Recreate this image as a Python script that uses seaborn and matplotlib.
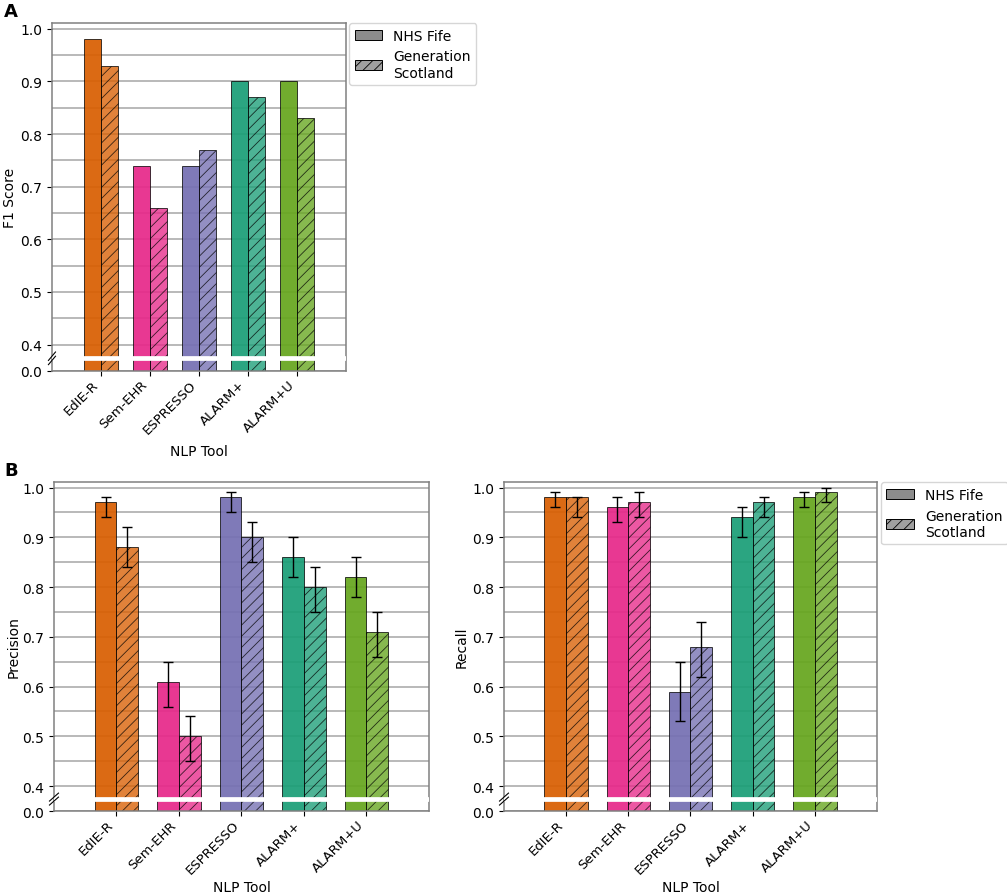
"""
Recreate the NLP tool comparison figure:
A - F1 score per tool, B - precision and recall with confidence intervals.
Broken y axis (0.0 at the bottom, then 0.4 - 1.0).
"""

import numpy as np
import pandas as pd
import matplotlib
matplotlib.use("Agg")
import matplotlib.pyplot as plt
import matplotlib.transforms as mtransforms
from matplotlib.patches import Patch
import seaborn as sns


# ----------------------------------------------------
# Data
# ----------------------------------------------------
tools = ["EdIE-R", "Sem-EHR", "ESPRESSO", "ALARM+", "ALARM+U"]
datasets = ["NHS Fife", "Generation Scotland"]
tool_colors = ["#d95f02", "#e7298a", "#7570b3", "#1b9e77", "#66a61e"]

f1_nhs = [0.98, 0.74, 0.74, 0.90, 0.90]
f1_gs = [0.93, 0.66, 0.77, 0.87, 0.83]

prec_nhs = [0.97, 0.61, 0.98, 0.86, 0.82]
prec_nhs_lo = [0.94, 0.56, 0.95, 0.82, 0.78]
prec_nhs_hi = [0.98, 0.65, 0.99, 0.90, 0.86]
prec_gs = [0.88, 0.50, 0.90, 0.80, 0.71]
prec_gs_lo = [0.84, 0.45, 0.85, 0.75, 0.66]
prec_gs_hi = [0.92, 0.54, 0.93, 0.84, 0.75]

rec_nhs = [0.98, 0.96, 0.59, 0.94, 0.98]
rec_nhs_lo = [0.96, 0.93, 0.53, 0.90, 0.96]
rec_nhs_hi = [0.99, 0.98, 0.65, 0.96, 0.99]
rec_gs = [0.98, 0.97, 0.68, 0.97, 0.99]
rec_gs_lo = [0.94, 0.94, 0.62, 0.94, 0.97]
rec_gs_hi = [0.98, 0.99, 0.73, 0.98, 1.00]

Y_BOTTOM = 0.35
Y_TOP = 1.011
BREAK_Y = 0.374

plt.rcParams["font.family"] = ["DejaVu Sans"]
plt.rcParams["font.size"] = 10
plt.rcParams["hatch.linewidth"] = 0.6


# ----------------------------------------------------
# One bar panel with a broken y axis
# ----------------------------------------------------
def draw_panel(ax, nhs, gs, ylabel, ylabel_x, nhs_ci=None, gs_ci=None):
    df = pd.DataFrame({
        "tool": tools * 2,
        "dataset": [datasets[0]] * len(tools) + [datasets[1]] * len(tools),
        "value": list(nhs) + list(gs),
    })
    sns.barplot(data=df, x="tool", y="value", hue="dataset",
                order=tools, hue_order=datasets, width=0.7,
                edgecolor="black", linewidth=0.7, legend=False, ax=ax)

    for i, container in enumerate(ax.containers):
        for j, bar in enumerate(container):
            bar.set_alpha(None)
            bar.set_edgecolor((0, 0, 0, 0.75))
            if i == 0:
                bar.set_facecolor(matplotlib.colors.to_rgba(tool_colors[j], 0.93))
            else:
                bar.set_facecolor(matplotlib.colors.to_rgba(tool_colors[j], 0.78))
                bar.set_hatch("///")
            bar.set_zorder(2)

    # error bars
    for container, vals, ci in zip(ax.containers, [nhs, gs], [nhs_ci, gs_ci]):
        if ci is None:
            continue
        xs = [b.get_x() + b.get_width() / 2 for b in container]
        vals = np.array(vals)
        lo, hi = np.array(ci[0]), np.array(ci[1])
        ax.errorbar(xs, vals, yerr=[vals - lo, hi - vals], fmt="none",
                    ecolor="black", elinewidth=1.0, capsize=3.5,
                    capthick=1.0, zorder=4)

    ax.set_xlim(-1, 5)
    ax.set_ylim(Y_BOTTOM, Y_TOP)
    major = [Y_BOTTOM, 0.4, 0.5, 0.6, 0.7, 0.8, 0.9, 1.0]
    ax.set_yticks(major)
    ax.set_yticklabels(["0.0", "0.4", "0.5", "0.6", "0.7", "0.8", "0.9", "1.0"])
    ax.set_yticks([0.45, 0.55, 0.65, 0.75, 0.85, 0.95], minor=True)
    ax.tick_params(axis="y", which="minor", length=0)
    ax.grid(True, axis="y", which="both", color="#a6a6a6", linewidth=1.1)
    ax.set_axisbelow(True)

    ax.set_xticks(range(len(tools)))
    ax.set_xticklabels(tools, rotation=45, ha="right")
    ax.tick_params(axis="x", labelsize=9.5, pad=1.5)
    ax.set_xlabel("NLP Tool", fontsize=10)
    ax.set_ylabel(ylabel, fontsize=10)
    ax.xaxis.set_label_coords(0.5, -0.21)
    ax.yaxis.set_label_coords(ylabel_x, 0.5)

    for s in ax.spines.values():
        s.set_color("#808080")
        s.set_linewidth(1.1)

    # white band to show the break across the bars
    ax.axhline(BREAK_Y, color="white", linewidth=3.4, zorder=3)

    # break mark on the left spine
    trans = mtransforms.blended_transform_factory(ax.transAxes, ax.transData)
    for off in (-0.004, 0.004):
        ax.plot([-0.012, 0.012], [BREAK_Y - 0.008 + off, BREAK_Y + 0.008 + off],
                transform=trans, color="black", linewidth=0.8,
                clip_on=False, zorder=5)


def add_legend(ax):
    handles = [
        Patch(facecolor=(0.5, 0.5, 0.5, 0.9), edgecolor="black", linewidth=0.7,
              label="NHS Fife"),
        Patch(facecolor=(0.5, 0.5, 0.5, 0.75), edgecolor="black", linewidth=0.7,
              hatch="///", label="Generation\nScotland"),
    ]
    ax.legend(handles=handles, loc="upper left", bbox_to_anchor=(1.01, 1.0),
              borderaxespad=0.0, fontsize=10, frameon=True)


# ----------------------------------------------------
# Figure
# ----------------------------------------------------
def main():
    fig = plt.figure(figsize=(10.07, 8.95), dpi=100)

    ax_a = fig.add_axes([0.0516, 0.5844, 0.292, 0.3888])
    ax_p = fig.add_axes([0.0536, 0.0927, 0.3724, 0.3676])
    ax_r = fig.add_axes([0.5005, 0.0927, 0.3704, 0.3676])

    draw_panel(ax_a, f1_nhs, f1_gs, "F1 Score", -0.12)
    add_legend(ax_a)

    draw_panel(ax_p, prec_nhs, prec_gs, "Precision", -0.088,
               nhs_ci=(prec_nhs_lo, prec_nhs_hi), gs_ci=(prec_gs_lo, prec_gs_hi))

    draw_panel(ax_r, rec_nhs, rec_gs, "Recall", -0.094,
               nhs_ci=(rec_nhs_lo, rec_nhs_hi), gs_ci=(rec_gs_lo, rec_gs_hi))
    add_legend(ax_r)

    fig.text(0.004, 0.997, "A", fontsize=13, fontweight="bold", va="top")
    fig.text(0.004, 0.484, "B", fontsize=13, fontweight="bold", va="top")

    fig.savefig("out.png", dpi=100)
    plt.close(fig)


if __name__ == "__main__":
    main()
